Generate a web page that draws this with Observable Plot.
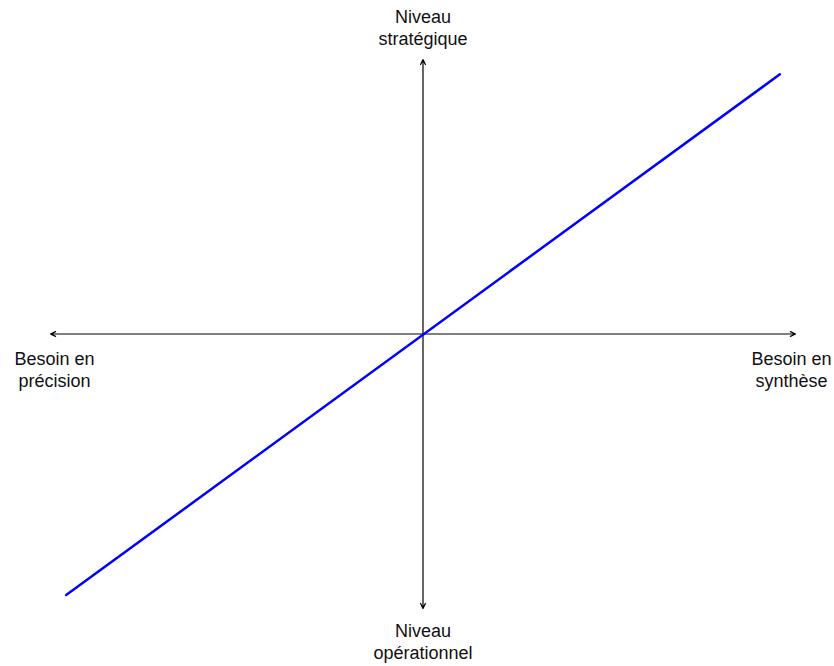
<!DOCTYPE html>
<html>
<head>
<meta charset="utf-8">
<script src="https://cdn.jsdelivr.net/npm/d3@7"></script>
<script src="https://cdn.jsdelivr.net/npm/@observablehq/plot@0.6"></script>
<style>
  html, body { margin: 0; padding: 0; background: #fff; }
</style>
</head>
<body>
<div id="chart"></div>
<script>
// Axis arrows (from centre outwards, in concept units)
const axisArrows = [
  {x1: 0, y1: 0, x2: -1, y2: 0},
  {x1: 0, y1: 0, x2: 1, y2: 0},
  {x1: 0, y1: 0, x2: 0, y2: 1},
  {x1: 0, y1: 0, x2: 0, y2: -1}
];
// Diagonal relation line
const lineX = [-0.958, 0.958];
const lineY = [-0.951, 0.946];
// Pole labels
const labelText = ["Niveau\nstratégique", "Niveau\nopérationnel", "Besoin en\nprécision", "Besoin en\nsynthèse"];
const labelX = [0, 0, -1, 1];
const labelY = [1, -1, 0, 0];
const labelDx = [0, 0, 4, -4];
const labelDy = [-52, 13, 15, 15];

const lineData = lineX.map((x, i) => ({x, y: lineY[i]}));
const labels = labelText.map((t, i) => ({t, x: labelX[i], y: labelY[i], dx: labelDx[i], dy: labelDy[i]}));

const chart = Plot.plot({
  width: 834,
  height: 666,
  margin: 0,
  style: {fontFamily: "'Liberation Sans', Arial, sans-serif", background: "#fff"},
  x: {domain: [-1, 1], range: [50, 795], axis: null},
  y: {domain: [-1, 1], range: [608, 59], axis: null},
  marks: [
    Plot.arrow(axisArrows, {x1: "x1", y1: "y1", x2: "x2", y2: "y2", stroke: "#000", strokeWidth: 1.2, headLength: 7, headAngle: 50}),
    Plot.line(lineData, {x: "x", y: "y", stroke: "#0000ff", strokeWidth: 2.5}),
    ...labels.map(d => Plot.text([d], {
      x: "x", y: "y", text: "t", dx: d.dx, dy: d.dy,
      lineAnchor: "top", textAnchor: "middle", fontSize: 18, lineHeight: 1.22, fill: "#111"
    }))
  ]
});
document.getElementById("chart").appendChild(chart);
</script>
</body>
</html>
